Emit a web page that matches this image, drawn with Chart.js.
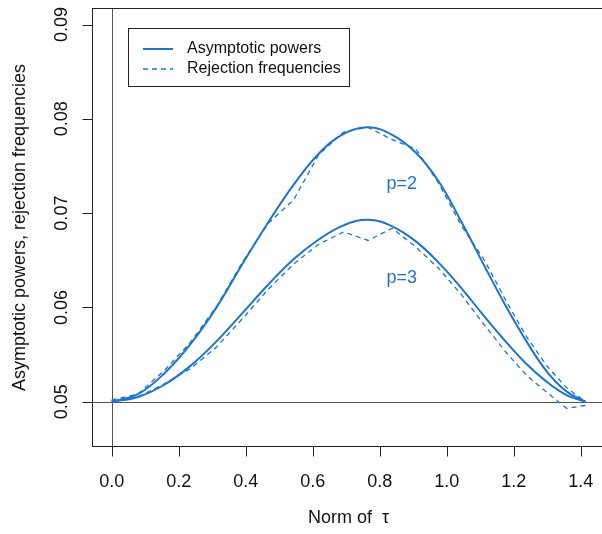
<!DOCTYPE html>
<html><head><meta charset="utf-8">
<script src="https://cdn.jsdelivr.net/npm/chart.js@4/dist/chart.umd.min.js"></script>
<style>html,body{margin:0;padding:0;background:#fff;overflow:hidden}canvas{display:block}</style>
</head><body>
<canvas id="c" width="602" height="534"></canvas>
<script>
// x positions (norm of tau)
const normTau = [0, 0.0785, 0.1569, 0.2351, 0.3129, 0.3902, 0.4669, 0.5429, 0.6180, 0.6922, 0.7654,
                 0.8373, 0.9080, 0.9772, 1.0450, 1.1111, 1.1756, 1.2382, 1.2989, 1.3576, 1.4142];
// asymptotic powers
const asymP2 = [0.0500, 0.0508, 0.0530, 0.0561, 0.0600, 0.0646, 0.0690, 0.0730, 0.0763, 0.0784, 0.0791,
                0.0783, 0.0764, 0.0733, 0.0690, 0.0645, 0.0602, 0.0564, 0.0532, 0.0511, 0.0500];
const asymP3 = [0.0500, 0.0505, 0.0518, 0.0538, 0.0564, 0.0594, 0.0624, 0.0651, 0.0672, 0.0687, 0.0693,
                0.0686, 0.0670, 0.0647, 0.0620, 0.0591, 0.0564, 0.0540, 0.0521, 0.0507, 0.0500];
// rejection frequencies
const rejP2 = [0.0502, 0.0508, 0.0533, 0.0563, 0.0601, 0.0648, 0.0689, 0.0714, 0.0762, 0.0786, 0.0791,
               0.0778, 0.0768, 0.0731, 0.0686, 0.0651, 0.0608, 0.0569, 0.0538, 0.0515, 0.0500];
const rejP3 = [0.0501, 0.0505, 0.0519, 0.0535, 0.0558, 0.0588, 0.0619, 0.0646, 0.0667, 0.0680, 0.0671,
               0.0684, 0.0664, 0.0641, 0.0613, 0.0582, 0.0553, 0.0528, 0.0510, 0.0493, 0.0496];
// ticks
const xTicks = [0.0, 0.2, 0.4, 0.6, 0.8, 1.0, 1.2, 1.4];
const xTickLabels = ["0.0", "0.2", "0.4", "0.6", "0.8", "1.0", "1.2", "1.4"];
const yTicks = [0.05, 0.06, 0.07, 0.08, 0.09];
const yTickLabels = ["0.05", "0.06", "0.07", "0.08", "0.09"];
const seriesNames = ["Asymptotic powers", "Rejection frequencies"];
const curveLabels = ["p=2", "p=3"];
const curveLabelPos = [[0.866, 0.0731], [0.866, 0.0631]];
const refX = 0, refY = 0.05;

const BLUE = '#1c74cf';
const FONT = '"Liberation Sans", Arial, Helvetica, sans-serif';
const pts = (ys) => ys.map((y, i) => ({x: normTau[i], y}));

const solid = {borderColor: BLUE, borderWidth: 2, pointRadius: 0, tension: 0.4, fill: false};
const dashed = {borderColor: BLUE, borderWidth: 1.3, pointRadius: 0, tension: 0, borderDash: [5, 4], fill: false};

const decor = {
  id: 'decor',
  beforeDatasetsDraw(chart) {
    const {ctx, chartArea: a, scales: {x, y}} = chart;
    ctx.save();
    ctx.strokeStyle = '#555';
    ctx.lineWidth = 1;
    const px = Math.round(x.getPixelForValue(refX)) + 0.5;
    const py = Math.round(y.getPixelForValue(refY)) + 0.5;
    ctx.beginPath();
    ctx.moveTo(px, a.top); ctx.lineTo(px, a.bottom);
    ctx.moveTo(a.left, py); ctx.lineTo(a.right, py);
    ctx.stroke();
    ctx.restore();
  },
  afterDraw(chart) {
    const {ctx, chartArea: a, scales: {x, y}} = chart;
    ctx.save();
    // box
    ctx.strokeStyle = '#222';
    ctx.lineWidth = 1;
    ctx.strokeRect(a.left, a.top, a.right - a.left + 5, a.bottom - a.top);
    // ticks
    ctx.beginPath();
    xTicks.forEach(v => {
      const p = Math.round(x.getPixelForValue(v)) + 0.5;
      ctx.moveTo(p, a.bottom); ctx.lineTo(p, a.bottom + 10);
    });
    yTicks.forEach(v => {
      const p = Math.round(y.getPixelForValue(v)) + 0.5;
      ctx.moveTo(a.left, p); ctx.lineTo(a.left - 10, p);
    });
    ctx.stroke();
    ctx.fillStyle = '#111';
    ctx.font = '18px ' + FONT;
    ctx.textAlign = 'center';
    ctx.textBaseline = 'alphabetic';
    xTicks.forEach((v, i) => ctx.fillText(xTickLabels[i], x.getPixelForValue(v), 487));
    yTicks.forEach((v, i) => {
      ctx.save();
      ctx.translate(67, y.getPixelForValue(v));
      ctx.rotate(-Math.PI / 2);
      ctx.fillText(yTickLabels[i], 0, 0);
      ctx.restore();
    });
    // axis titles
    ctx.fillText('Norm of  \u03c4', 348.5, 523);
    ctx.save();
    ctx.translate(25, (a.top + a.bottom) / 2);
    ctx.rotate(-Math.PI / 2);
    ctx.fillText('Asymptotic powers, rejection frequencies', 0, 0);
    ctx.restore();
    // curve labels
    ctx.fillStyle = BLUE;
    ctx.textBaseline = 'middle';
    curveLabels.forEach((t, i) => ctx.fillText(t, x.getPixelForValue(curveLabelPos[i][0]), y.getPixelForValue(curveLabelPos[i][1])));
    // legend
    ctx.fillStyle = '#fff';
    ctx.fillRect(128.5, 28.5, 221, 58);
    ctx.strokeStyle = '#222';
    ctx.strokeRect(128.5, 28.5, 221, 58);
    ctx.strokeStyle = BLUE;
    ctx.lineWidth = 2;
    ctx.beginPath(); ctx.moveTo(143, 49); ctx.lineTo(173, 49); ctx.stroke();
    ctx.lineWidth = 1.3;
    ctx.setLineDash([5, 4]);
    ctx.beginPath(); ctx.moveTo(143, 69); ctx.lineTo(173, 69); ctx.stroke();
    ctx.setLineDash([]);
    ctx.fillStyle = '#111';
    ctx.font = '16px ' + FONT;
    ctx.textAlign = 'left';
    ctx.textBaseline = 'middle';
    ctx.fillText(seriesNames[0], 187, 49);
    ctx.fillText(seriesNames[1], 187, 69);
    ctx.restore();
  }
};

new Chart(document.getElementById('c'), {
  type: 'line',
  data: {
    datasets: [
      Object.assign({label: seriesNames[0] + ' p=2', data: pts(asymP2)}, solid),
      Object.assign({label: seriesNames[0] + ' p=3', data: pts(asymP3)}, solid),
      Object.assign({label: seriesNames[1] + ' p=2', data: pts(rejP2)}, dashed),
      Object.assign({label: seriesNames[1] + ' p=3', data: pts(rejP3)}, dashed)
    ]
  },
  options: {
    responsive: false,
    animation: false,
    devicePixelRatio: 1,
    layout: {padding: {left: 92.5, top: 8.5, right: 0, bottom: 87.5}},
    plugins: {legend: {display: false}, tooltip: {enabled: false}},
    scales: {
      x: {type: 'linear', display: false, min: -0.0573, max: 1.4636},
      y: {type: 'linear', display: false, min: 0.04525, max: 0.0917}
    }
  },
  plugins: [decor]
});
</script>
</body></html>
